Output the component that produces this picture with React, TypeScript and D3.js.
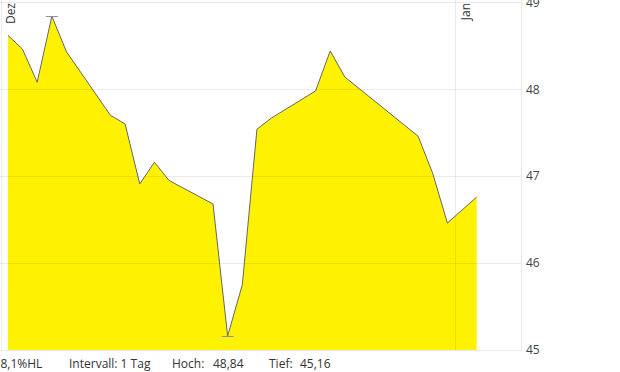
import React from "react";
import * as d3 from "d3";

// Trading days (Dec 2025 - Jan 2026), closing values
const dates: string[] = [
  "2025-12-01", "2025-12-02", "2025-12-03", "2025-12-04", "2025-12-05",
  "2025-12-08", "2025-12-09", "2025-12-10", "2025-12-11", "2025-12-12",
  "2025-12-15", "2025-12-16", "2025-12-17", "2025-12-18", "2025-12-19",
  "2025-12-22", "2025-12-23", "2025-12-24", "2025-12-29", "2025-12-30",
  "2025-12-31", "2026-01-02",
];
const values: number[] = [
  48.62, 48.46, 48.08, 48.84, 48.43,
  47.70, 47.60, 46.91, 47.16, 46.95,
  46.68, 45.16, 45.75, 47.54, 47.67,
  47.98, 48.44, 48.14, 47.46, 47.03,
  46.46, 46.76,
];
const yTicks: number[] = [45, 46, 47, 48, 49];
const monthTicks: { date: string; label: string }[] = [
  { date: "2025-12-01", label: "Dez" },
  { date: "2026-01-01", label: "Jan" },
];
const infoTexts: { text: string; x: number }[] = [
  { text: "8,1%HL", x: 0.5 },
  { text: "Intervall: 1 Tag", x: 69 },
  { text: "Hoch:", x: 172 },
  { text: "48,84", x: 213 },
  { text: "Tief:", x: 269 },
  { text: "45,16", x: 300 },
];

const W = 620;
const H = 372;
const plotLeft = 0;
const plotRight = 521;
const plotTop = 0;
const plotBottom = 350;

function parseDay(s: string, hour = 0): Date {
  const [y, m, d] = s.split("-").map(Number);
  return new Date(y, m - 1, d, hour);
}

export default function App() {
  const x = d3
    .scaleTime()
    .domain([parseDay("2025-12-01"), parseDay("2026-01-01")])
    .range([0.575, 454.725]);
  const y = d3.scaleLinear().domain([45, 49]).range([350, 2.3]);

  const pts = dates.map((d, i) => ({ t: parseDay(d, 12), v: values[i] }));

  const area = d3
    .area<{ t: Date; v: number }>()
    .x((d) => x(d.t))
    .y0(y(45))
    .y1((d) => y(d.v));
  const line = d3
    .line<{ t: Date; v: number }>()
    .x((d) => x(d.t))
    .y((d) => y(d.v));

  const maxV = d3.max(values)!;
  const minV = d3.min(values)!;
  const hi = pts[values.indexOf(maxV)];
  const lo = pts[values.indexOf(minV)];

  const font = "'Open Sans', 'Noto Sans', sans-serif";

  return (
    <div style={{ position: "absolute", left: 0, top: 0 }}>
      <svg width={W} height={H} style={{ display: "block", background: "#fff" }}>
        <path d={area(pts)!} fill="#fff200" />
        {/* grid */}
        {yTicks.map((t) => (
          <line
            key={"g" + t}
            x1={plotLeft}
            x2={plotRight}
            y1={Math.round(y(t)) + 0.5}
            y2={Math.round(y(t)) + 0.5}
            stroke="rgba(0,0,0,0.08)"
            strokeWidth={1}
          />
        ))}
        {monthTicks.map((m) => (
          <line
            key={"v" + m.label}
            x1={Math.round(x(parseDay(m.date))) + 0.5}
            x2={Math.round(x(parseDay(m.date))) + 0.5}
            y1={plotTop}
            y2={plotBottom}
            stroke="rgba(0,0,0,0.08)"
            strokeWidth={1}
          />
        ))}
        <line
          x1={plotRight + 0.5}
          x2={plotRight + 0.5}
          y1={plotTop}
          y2={plotBottom + 1}
          stroke="rgba(0,0,0,0.08)"
        />
        <path d={line(pts)!} fill="none" stroke="#666" strokeWidth={1} />
        {/* high / low markers */}
        {[hi, lo].map((p, i) => (
          <line
            key={"m" + i}
            x1={x(p.t) - 6}
            x2={x(p.t) + 6}
            y1={Math.round(y(p.v)) + 0.5}
            y2={Math.round(y(p.v)) + 0.5}
            stroke="#8a93a8"
            strokeWidth={1}
          />
        ))}
        {/* y tick labels */}
        {yTicks.map((t) => (
          <text
            key={"t" + t}
            x={526}
            y={y(t)}
            dy="0.36em"
            fontFamily={font}
            fontSize={12}
            fill="#444"
          >
            {t}
          </text>
        ))}
        {/* month labels */}
        {monthTicks.map((m) => {
          const px = x(parseDay(m.date)) + 14.8;
          return (
            <text
              key={"l" + m.label}
              transform={`translate(${px},3) rotate(-90)`}
              textAnchor="end"
              fontFamily={font}
              fontSize={12}
              fill="#333"
            >
              {m.label}
            </text>
          );
        })}
        {/* info line */}
        {infoTexts.map((t, i) => (
          <text
            key={"i" + i}
            x={t.x}
            y={367.7}
            fontFamily={font}
            fontSize={12}
            fill="#333"
          >
            {t.text}
          </text>
        ))}
      </svg>
    </div>
  );
}
